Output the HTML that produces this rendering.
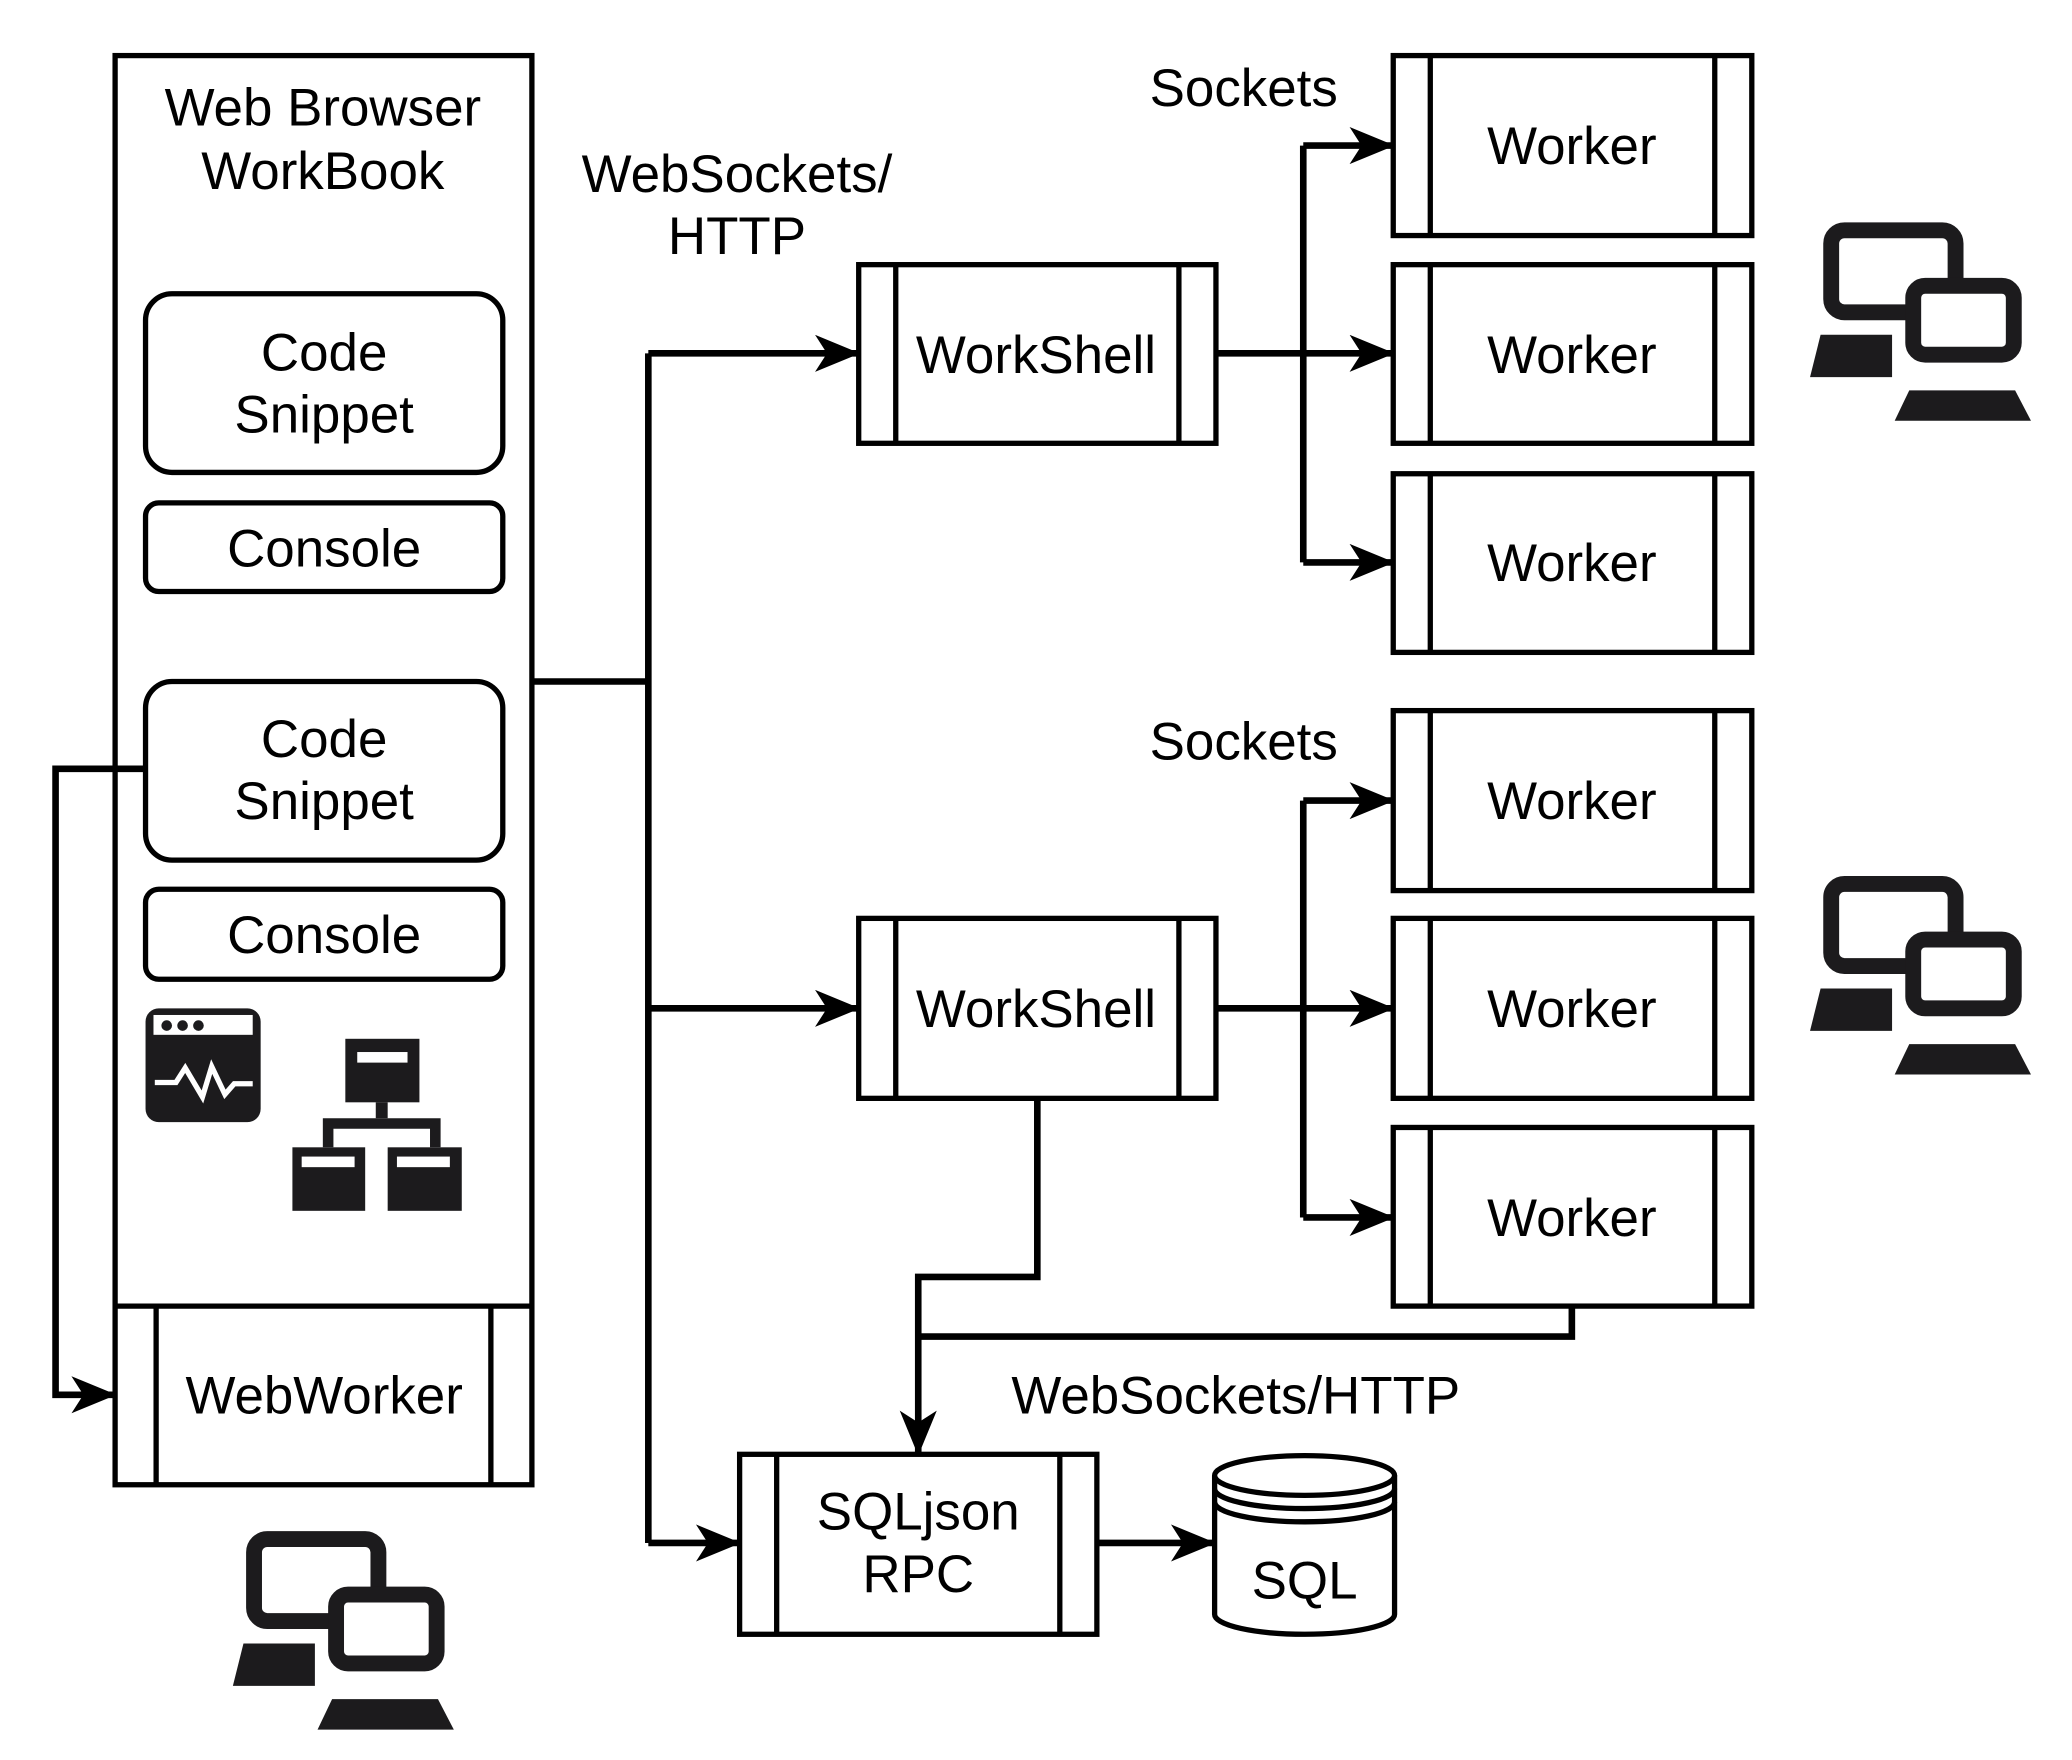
<!DOCTYPE html>
<html><head><meta charset="utf-8"><style>html,body{margin:0;padding:0;background:#fff}svg{display:block}</style></head>
<body>
<svg width="2072" height="1760" viewBox="0 0 1566 1330" preserveAspectRatio="none" xmlns="http://www.w3.org/2000/svg">
<defs>
<marker id="a" markerWidth="34" markerHeight="28" refX="32" refY="14" orient="auto" markerUnits="userSpaceOnUse" viewBox="0 0 34 28"><path d="M0,0 L34,14 L0,28 L9,14 Z" fill="#000"/></marker>
<g id="pc">
<rect x="16" y="6" width="94" height="62" rx="10" fill="#fff" stroke="#1c1b1d" stroke-width="12"/>
<rect x="78" y="48" width="76" height="52" rx="9" fill="#fff" stroke="#1c1b1d" stroke-width="12"/>
<polygon points="8,85 62,85 62,117 0,117" fill="#1c1b1d"/>
<polygon points="75,127 155,127 167,150 64,150" fill="#1c1b1d"/>
</g>
</defs>
<style>text{font-family:"Liberation Sans",sans-serif;font-size:40px;fill:#000;text-anchor:middle}</style>
<g fill="none" stroke="#000" stroke-width="4">
<rect x="87" y="42" width="315" height="1080"/>
<line x1="87" y1="987" x2="402" y2="987"/><line x1="118" y1="987" x2="118" y2="1122"/><line x1="371" y1="987" x2="371" y2="1122"/>
<rect x="110" y="222" width="270" height="135" rx="20"/>
<rect x="110" y="380" width="270" height="67" rx="10"/>
<rect x="110" y="515" width="270" height="135" rx="20"/>
<rect x="110" y="672" width="270" height="68" rx="10"/>
<rect x="649" y="200" width="270" height="135"/><line x1="677" y1="200" x2="677" y2="335"/><line x1="891" y1="200" x2="891" y2="335"/>
<rect x="649" y="694" width="270" height="136"/><line x1="677" y1="694" x2="677" y2="830"/><line x1="891" y1="694" x2="891" y2="830"/>
<rect x="559" y="1099" width="270" height="136"/><line x1="587" y1="1099" x2="587" y2="1235"/><line x1="801" y1="1099" x2="801" y2="1235"/>
</g>
<g fill="none" stroke="#000" stroke-width="4">
<rect x="1053" y="42" width="271" height="136"/><line x1="1081" y1="42" x2="1081" y2="178"/><line x1="1296" y1="42" x2="1296" y2="178"/>
<rect x="1053" y="200" width="271" height="135"/><line x1="1081" y1="200" x2="1081" y2="335"/><line x1="1296" y1="200" x2="1296" y2="335"/>
<rect x="1053" y="358" width="271" height="135"/><line x1="1081" y1="358" x2="1081" y2="493"/><line x1="1296" y1="358" x2="1296" y2="493"/>
<rect x="1053" y="537" width="271" height="136"/><line x1="1081" y1="537" x2="1081" y2="673"/><line x1="1296" y1="537" x2="1296" y2="673"/>
<rect x="1053" y="694" width="271" height="136"/><line x1="1081" y1="694" x2="1081" y2="830"/><line x1="1296" y1="694" x2="1296" y2="830"/>
<rect x="1053" y="852" width="271" height="135"/><line x1="1081" y1="852" x2="1081" y2="987"/><line x1="1296" y1="852" x2="1296" y2="987"/>
</g>
<g fill="#fff" stroke="#000" stroke-width="4">
<path d="M918,1115 L918,1220 A68,15 0 0 0 1054,1220 L1054,1115"/>
<ellipse cx="986" cy="1115" rx="68" ry="15"/>
<path d="M918,1125 A68,15 0 0 0 1054,1125 M918,1135 A68,15 0 0 0 1054,1135" fill="none"/>
</g>
<g fill="none" stroke="#000" stroke-width="5">
<polyline points="402,515 490,515"/>
<polyline points="490,267 490,1166"/>
<polyline points="490,267 648,267" marker-end="url(#a)"/>
<polyline points="490,762 648,762" marker-end="url(#a)"/>
<polyline points="490,1166 558,1166" marker-end="url(#a)"/>
<polyline points="110,581 42,581 42,1054 86,1054" marker-end="url(#a)"/>
<polyline points="919,267 1052,267" marker-end="url(#a)"/>
<polyline points="985,110 985,425"/>
<polyline points="985,110 1052,110" marker-end="url(#a)"/>
<polyline points="985,425 1052,425" marker-end="url(#a)"/>
<polyline points="919,762 1052,762" marker-end="url(#a)"/>
<polyline points="985,605 985,920"/>
<polyline points="985,605 1052,605" marker-end="url(#a)"/>
<polyline points="985,920 1052,920" marker-end="url(#a)"/>
<polyline points="784,830 784,965 694,965 694,1098" marker-end="url(#a)"/>
<polyline points="1188,987 1188,1010 694,1010"/>
<polyline points="829,1166 917,1166" marker-end="url(#a)"/>
</g>
<rect x="110" y="762" width="87" height="86" rx="10" fill="#1c1b1d"/>
<rect x="116" y="767" width="75" height="15" fill="#fff"/>
<circle cx="126" cy="775" r="4" fill="#1c1b1d"/><circle cx="138" cy="775" r="4" fill="#1c1b1d"/><circle cx="150" cy="775" r="4" fill="#1c1b1d"/>
<polyline points="117,818 133,818 140,807 153,829 160,806 170,827 177,819 191,819" fill="none" stroke="#fff" stroke-width="4"/>
<rect x="261" y="785" width="56" height="48" fill="#1c1b1d"/>
<rect x="270" y="795" width="38" height="8" fill="#fff"/>
<rect x="284" y="833" width="9" height="12" fill="#1c1b1d"/>
<polyline points="248,867 248,849 329,849 329,867" fill="none" stroke="#1c1b1d" stroke-width="8"/>
<rect x="221" y="867" width="55" height="48" fill="#1c1b1d"/>
<rect x="228" y="874" width="40" height="8" fill="#fff"/>
<rect x="293" y="867" width="56" height="48" fill="#1c1b1d"/>
<rect x="300" y="874" width="40" height="8" fill="#fff"/>
<use href="#pc" x="1368" y="168"/>
<use href="#pc" x="1368" y="662"/>
<use href="#pc" x="176" y="1157"/>
<text x="244" y="95">Web Browser</text>
<text x="244" y="143">WorkBook</text>
<text x="245" y="280">Code</text><text x="245" y="327">Snippet</text>
<text x="245" y="428">Console</text>
<text x="245" y="572">Code</text><text x="245" y="619">Snippet</text>
<text x="245" y="720">Console</text>
<text x="245" y="1068">WebWorker</text>
<text x="557" y="145">WebSockets/</text>
<text x="557" y="192">HTTP</text>
<text x="940" y="80">Sockets</text>
<text x="940" y="574">Sockets</text>
<text x="783" y="282">WorkShell</text>
<text x="783" y="776">WorkShell</text>
<text x="1188" y="124">Worker</text>
<text x="1188" y="282">Worker</text>
<text x="1188" y="439">Worker</text>
<text x="1188" y="619">Worker</text>
<text x="1188" y="776">Worker</text>
<text x="1188" y="934">Worker</text>
<text x="934" y="1068">WebSockets/HTTP</text>
<text x="694" y="1156">SQLjson</text>
<text x="694" y="1203">RPC</text>
<text x="986" y="1208">SQL</text>
</svg>
</body></html>
